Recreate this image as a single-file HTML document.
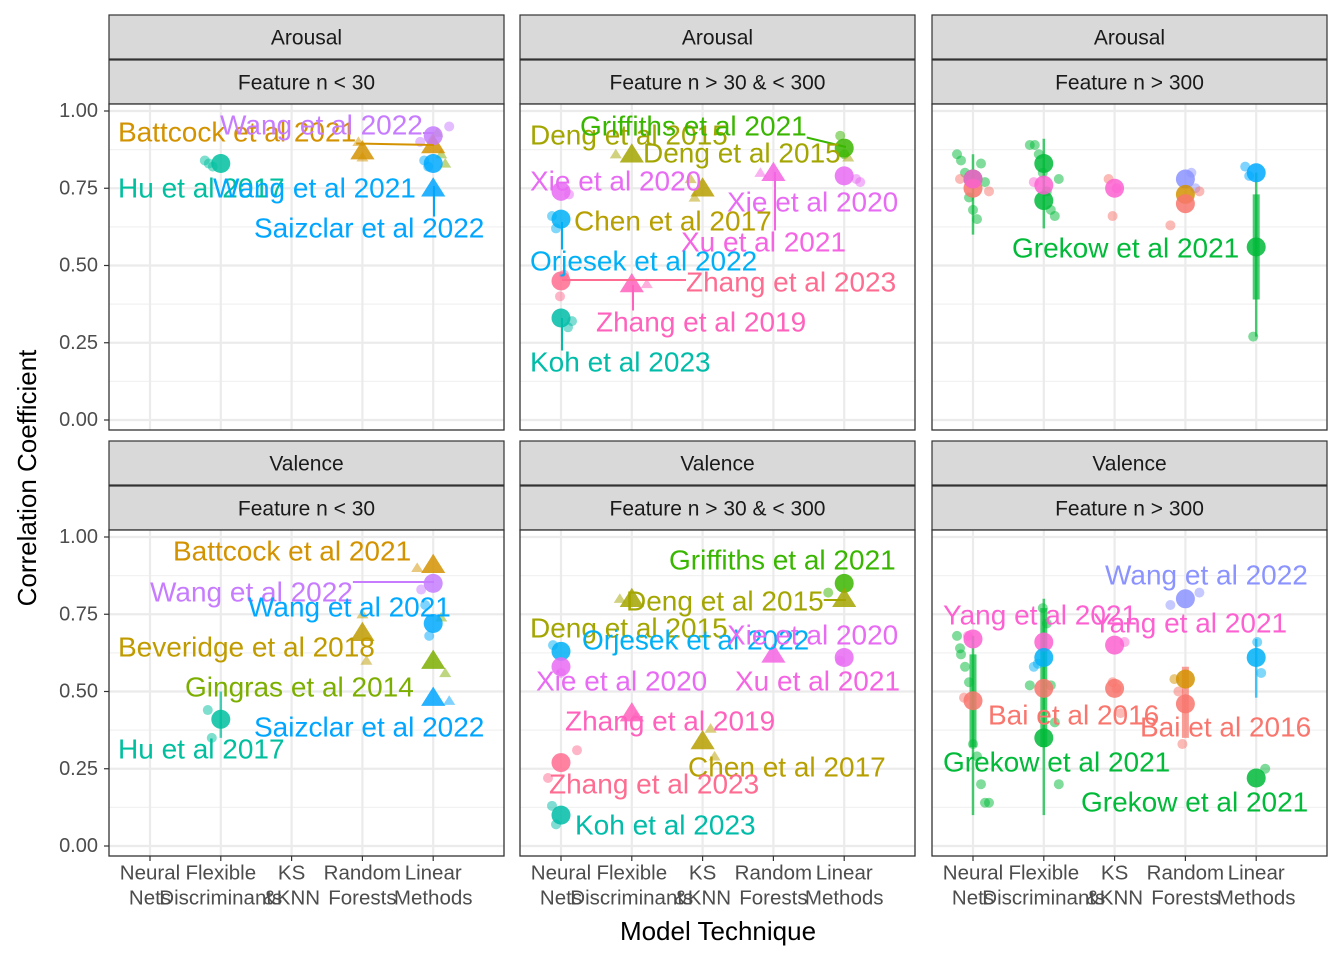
<!DOCTYPE html>
<html><head><meta charset="utf-8"><style>
body{margin:0;background:#fff}
svg{display:block;font-family:"Liberation Sans",sans-serif}
</style></head><body>
<svg id="chart" width="1344" height="960" viewBox="0 0 1344 960" xmlns="http://www.w3.org/2000/svg"></svg>
<script>
const categories=["Neural\nNets","Flexible\nDiscriminants","KS\n&KNN","Random\nForests","Linear\nMethods"];
const yTicks=[0,0.25,0.5,0.75,1];
const yTickLabels=["0.00","0.25","0.50","0.75","1.00"];
const rowTitles=["Arousal","Valence"];
const colTitles=["Feature n < 30","Feature n > 30 & < 300","Feature n > 300"];
const colors={Battcock:"#D39200",Wang22:"#C77CFF",Wang21:"#00A9FF",Hu:"#00BF9F",Saiz:"#00A5FF",Deng:"#A3A500",Griff:"#39B600",Xie:"#E76BF3",Chen:"#B79F00",Orj:"#00B0F6",Z23:"#FF6C91",Z19:"#FF62BC",Koh:"#00BCA8",Xu:"#F564E3",Grek:"#00BA38",Yang:"#FD61D1",Bai:"#F8766D",Bev:"#C09B00",Ging:"#7CAE00",Wang22v:"#8B93FF"};
const meansA1=[["Hu",1,0.83,"c"],["Battcock",3,0.87,"t"],["Battcock",4,0.89,"t"],["Wang22",4,0.92,"c"],["Wang21",4,0.83,"c"],["Saiz",4,0.75,"t"]];
const meansA2=[["Deng",1,0.86,"t"],["Chen",2,0.75,"t"],["Griff",4,0.88,"c"],["Xie",0,0.74,"c"],["Xie",4,0.79,"c"],["Xu",3,0.80,"t"],["Orj",0,0.65,"c"],["Z23",0,0.45,"c"],["Z19",1,0.44,"t"],["Koh",0,0.33,"c"]];
const meansA3=[["Grek",0,0.78,"c"],["Bai",0,0.75,"c"],["Yang",0,0.78,"c"],["Grek",1,0.83,"c"],["Grek",1,0.71,"c"],["Yang",1,0.76,"c"],["Yang",2,0.75,"c"],["Wang22v",3,0.78,"c"],["Battcock",3,0.73,"c"],["Bai",3,0.70,"c"],["Wang21",4,0.80,"c"],["Grek",4,0.56,"c"]];
const meansV1=[["Battcock",4,0.91,"t"],["Wang22",4,0.85,"c"],["Wang21",4,0.72,"c"],["Bev",3,0.69,"t"],["Ging",4,0.60,"t"],["Saiz",4,0.48,"t"],["Hu",1,0.41,"c"]];
const meansV2=[["Griff",4,0.85,"c"],["Deng",4,0.80,"t"],["Deng",1,0.80,"t"],["Orj",0,0.63,"c"],["Xie",0,0.58,"c"],["Xie",4,0.61,"c"],["Xu",3,0.62,"t"],["Z19",1,0.43,"t"],["Chen",2,0.34,"t"],["Z23",0,0.27,"c"],["Koh",0,0.10,"c"]];
const meansV3=[["Wang22v",3,0.80,"c"],["Yang",0,0.67,"c"],["Yang",1,0.66,"c"],["Yang",2,0.65,"c"],["Bai",0,0.47,"c"],["Bai",1,0.51,"c"],["Bai",2,0.51,"c"],["Battcock",3,0.54,"c"],["Bai",3,0.46,"c"],["Grek",1,0.35,"c"],["Grek",4,0.22,"c"],["Orj",1,0.61,"c"],["Orj",4,0.61,"c"]];
const ptsA1=[["Hu",1,0.84,"c"],["Hu",1,0.83,"c"],["Hu",1,0.82,"c"],["Battcock",3,0.90,"t"],["Battcock",3,0.85,"t"],["Ging",4,0.93,"t"],["Ging",4,0.86,"t"],["Ging",4,0.83,"t"],["Wang22",4,0.95,"c"],["Wang22",4,0.90,"c"],["Wang21",4,0.84,"c"],["Wang21",4,0.82,"c"],["Deng",4,0.91,"t"]];
const ptsA2=[["Deng",1,0.86,"t"],["Chen",2,0.78,"t"],["Chen",2,0.72,"t"],["Griff",4,0.92,"c"],["Griff",4,0.86,"c"],["Deng",4,0.85,"t"],["Xie",0,0.73,"c"],["Xie",4,0.78,"c"],["Xie",4,0.77,"c"],["Xu",3,0.80,"t"],["Orj",0,0.66,"c"],["Orj",0,0.62,"c"],["Z23",0,0.40,"c"],["Z23",0,0.47,"c"],["Koh",0,0.30,"c"],["Koh",0,0.32,"c"],["Z19",1,0.44,"t"]];
const ptsA3=[["Grek",0,0.86,"c"],["Grek",0,0.84,"c"],["Grek",0,0.80,"c"],["Grek",0,0.72,"c"],["Grek",0,0.68,"c"],["Grek",0,0.65,"c"],["Grek",0,0.83,"c"],["Grek",0,0.77,"c"],["Bai",0,0.74,"c"],["Bai",0,0.78,"c"],["Grek",1,0.89,"c"],["Grek",1,0.86,"c"],["Grek",1,0.80,"c"],["Grek",1,0.74,"c"],["Grek",1,0.68,"c"],["Grek",1,0.66,"c"],["Grek",1,0.78,"c"],["Grek",1,0.89,"c"],["Yang",1,0.77,"c"],["Bai",2,0.78,"c"],["Bai",2,0.66,"c"],["Yang",2,0.75,"c"],["Wang22v",3,0.80,"c"],["Wang22v",3,0.75,"c"],["Bai",3,0.74,"c"],["Bai",3,0.63,"c"],["Wang21",4,0.82,"c"],["Wang21",4,0.79,"c"],["Grek",4,0.27,"c"]];
const ptsV1=[["Battcock",4,0.90,"t"],["Wang22",4,0.83,"c"],["Wang21",4,0.78,"c"],["Wang21",4,0.68,"c"],["Bev",3,0.75,"t"],["Bev",3,0.60,"t"],["Ging",4,0.74,"t"],["Ging",4,0.56,"t"],["Saiz",4,0.47,"t"],["Hu",1,0.44,"c"],["Hu",1,0.35,"c"]];
const ptsV2=[["Griff",4,0.82,"c"],["Deng",1,0.80,"t"],["Orj",0,0.65,"c"],["Xie",4,0.60,"c"],["Xie",0,0.56,"c"],["Z19",1,0.42,"t"],["Chen",2,0.38,"t"],["Chen",2,0.29,"t"],["Z23",0,0.31,"c"],["Z23",0,0.22,"c"],["Koh",0,0.13,"c"],["Koh",0,0.07,"c"]];
const ptsV3=[["Grek",0,0.68,"c"],["Grek",0,0.62,"c"],["Grek",0,0.58,"c"],["Grek",0,0.53,"c"],["Grek",0,0.33,"c"],["Grek",0,0.29,"c"],["Grek",0,0.20,"c"],["Grek",0,0.14,"c"],["Grek",0,0.14,"c"],["Grek",0,0.64,"c"],["Bai",0,0.48,"c"],["Yang",0,0.68,"c"],["Grek",1,0.77,"c"],["Grek",1,0.72,"c"],["Grek",1,0.52,"c"],["Grek",1,0.40,"c"],["Grek",1,0.20,"c"],["Grek",1,0.52,"c"],["Orj",1,0.58,"c"],["Orj",1,0.59,"c"],["Bai",2,0.53,"c"],["Bai",2,0.51,"c"],["Bai",2,0.43,"c"],["Yang",2,0.66,"c"],["Wang22v",3,0.82,"c"],["Wang22v",3,0.78,"c"],["Battcock",3,0.54,"c"],["Bai",3,0.50,"c"],["Bai",3,0.33,"c"],["Orj",4,0.66,"c"],["Orj",4,0.56,"c"],["Grek",4,0.25,"c"]];
const errA3=[["Grek",4,0.27,0.80,0],["Grek",4,0.39,0.73,1],["Grek",0,0.60,0.86,0],["Grek",1,0.62,0.91,0]];
const errV3=[["Grek",0,0.10,0.68,0],["Grek",0,0.32,0.62,1],["Grek",1,0.32,0.77,1],["Grek",1,0.10,0.80,0],["Bai",3,0.35,0.58,1],["Orj",4,0.48,0.67,0]];
const errV1=[["Hu",1,0.35,0.50,0]];
const panels=[
 {r:0,c:0,m:meansA1,p:ptsA1,e:[]},{r:0,c:1,m:meansA2,p:ptsA2,e:[]},{r:0,c:2,m:meansA3,p:ptsA3,e:errA3},
 {r:1,c:0,m:meansV1,p:ptsV1,e:errV1},{r:1,c:1,m:meansV2,p:ptsV2,e:[]},{r:1,c:2,m:meansV3,p:ptsV3,e:errV3}];
const labels=[
 ["Battcock et al 2021","Battcock",118,132,434,145],["Wang et al 2022","Wang22",220,125,434,133],["Hu et al 2017","Hu",118,188],["Wang et al 2021","Wang21",213,188],["Saizclar et al 2022","Saiz",254,228,434,186],
 ["Deng et al 2015","Deng",530,135],["Griffiths et al 2021","Griff",580,126,846,147],["Deng et al 2015","Deng",643,153],["Xie et al 2020","Xie",530,181],["Xie et al 2020","Xie",727,202],["Chen et al 2017","Chen",574,221],["Xu et al 2021","Xu",681,242,775,172],["Orjesek et al 2022","Orj",530,261,562,222],["Zhang et al 2023","Z23",686,282,562,280],["Zhang et al 2019","Z19",596,322,633,285],["Koh et al 2023","Koh",530,362,562,318],
 ["Grekow et al 2021","Grek",1012,248],
 ["Battcock et al 2021","Battcock",173,551],["Wang et al 2022","Wang22",150,592,434,582],["Wang et al 2021","Wang21",248,607],["Beveridge et al 2018","Bev",118,647],["Gingras et al 2014","Ging",185,687],["Saizclar et al 2022","Saiz",254,727],["Hu et al 2017","Hu",118,749],
 ["Griffiths et al 2021","Griff",669,560],["Deng et al 2015","Deng",626,601,846,600],["Deng et al 2015","Deng",530,628],["Orjesek et al 2022","Orj",582,640],["Xie et al 2020","Xie",727,635],["Xie et al 2020","Xie",536,681],["Xu et al 2021","Xu",735,681],["Zhang et al 2019","Z19",565,721],["Chen et al 2017","Chen",688,767],["Zhang et al 2023","Z23",549,784],["Koh et al 2023","Koh",575,825],
 ["Wang et al 2022","Wang22v",1105,575],["Yang et al 2021","Yang",943,615],["Yang et al 2021","Yang",1093,623],["Bai et al 2016","Bai",988,715],["Bai et al 2016","Bai",1140,727],["Grekow et al 2021","Grek",943,762],["Grekow et al 2021","Grek",1081,802]];

const NS="http://www.w3.org/2000/svg",svg=document.getElementById("chart");
function el(t,a,parent){const e=document.createElementNS(NS,t);for(const k in a)e.setAttribute(k,a[k]);(parent||svg).appendChild(e);return e;}
const colX=[109,520,932],PW=395,rowPlotTop=[104,530],rowPlotBot=[430,856],rowStripTop=[15,441];
function xPos(c,i){return colX[c]+41+i*70.8;}
function yPos(r,v){return rowPlotBot[r]-10-v*309;}
function tri(x,y,s){return `${x},${y-s} ${x-s*1.1},${y+s*0.75} ${x+s*1.1},${y+s*0.75}`;}

panels.forEach((P,pi)=>{
 const g=el("g",{});
 
 
 const x0=colX[P.c],y0=rowPlotTop[P.r],y1=rowPlotBot[P.r];
 [0,1].forEach(k=>{
  const sy=rowStripTop[P.r]+k*45;
  const s=el("rect",{x:x0,y:sy,width:PW,height:44,fill:"#D9D9D9",stroke:"#333",'stroke-width':1.2},g);
  
  
  const t=el("text",{x:x0+PW/2,y:sy+23,'text-anchor':'middle','dominant-baseline':'central','font-size':21,fill:'#1A1A1A'},g);
  t.textContent=k?colTitles[P.c]:rowTitles[P.r];
  
  
 });
 el("rect",{x:x0,y:y0,width:PW,height:y1-y0,fill:"#fff"},g);
 for(let v=0.125;v<1.1;v+=0.25){el("line",{x1:x0,x2:x0+PW,y1:yPos(P.r,v),y2:yPos(P.r,v),stroke:"#F2F2F2",'stroke-width':1.2},g);}
 yTicks.forEach(v=>el("line",{x1:x0,x2:x0+PW,y1:yPos(P.r,v),y2:yPos(P.r,v),stroke:"#EBEBEB",'stroke-width':2.2},g));
 categories.forEach((c,i)=>el("line",{x1:xPos(P.c,i),x2:xPos(P.c,i),y1:y0,y2:y1,stroke:"#EBEBEB",'stroke-width':2.2},g));
 P.e.forEach(e=>{
  const b=el("line",{x1:xPos(P.c,e[1]),x2:xPos(P.c,e[1]),y1:yPos(P.r,e[2]),y2:yPos(P.r,e[3]),stroke:colors[e[0]],'stroke-width':e[4]?7:2.5,opacity:0.7},g);
  
  
 });
 P.p.forEach((p,i)=>{
  const dx=((i*37)%33)-16,x=xPos(P.c,p[1])+dx,y=yPos(P.r,p[2]);
  const m=p[3]=="t"?el("polygon",{points:tri(x,y,5.5),fill:colors[p[0]],opacity:0.5},g):el("circle",{cx:x,cy:y,r:5,fill:colors[p[0]],opacity:0.5},g);
  
  
 });
 P.m.forEach(p=>{
  const x=xPos(P.c,p[1]),y=yPos(P.r,p[2]);
  const m=p[3]=="t"?el("polygon",{points:tri(x,y,11),fill:colors[p[0]],opacity:0.85},g):el("circle",{cx:x,cy:y,r:9.5,fill:colors[p[0]],opacity:0.85},g);
  
  
 });
 el("rect",{x:x0,y:y0,width:PW,height:y1-y0,fill:"none",stroke:"#333",'stroke-width':1.3},g);
 categories.forEach((c,i)=>{
  if(P.r==1){
   el("line",{x1:xPos(P.c,i),x2:xPos(P.c,i),y1:y1,y2:y1+5,stroke:"#333",'stroke-width':1.2},g);
   c.split("\n").forEach((ln,k)=>{const t=el("text",{x:xPos(P.c,i),y:873+k*25,'text-anchor':'middle','dominant-baseline':'central','font-size':20.5,fill:'#4D4D4D'},g);t.textContent=ln;
    
    });
  }
 });
 if(P.c==0){
  yTicks.forEach((v,i)=>{
   el("line",{x1:x0-5,x2:x0,y1:yPos(P.r,v),y2:yPos(P.r,v),stroke:"#333",'stroke-width':1.2},g);
   const t=el("text",{x:x0-11,y:yPos(P.r,v),'text-anchor':'end','dominant-baseline':'central','font-size':20,fill:'#4D4D4D'},g);
   t.textContent=yTickLabels[i];
   
   
  });
 }
});
labels.forEach(l=>{
 const t=el("text",{x:l[2],y:l[3],'dominant-baseline':'central','font-size':28,fill:colors[l[1]]});
 t.textContent=l[0];
 
 
 if(l.length>4){
  const bb=t.getBBox();
  const sx=Math.max(bb.x,Math.min(l[4],bb.x+bb.width)),sy=Math.max(bb.y+4,Math.min(l[5],bb.y+bb.height-4));
  const s=el("line",{x1:sx,y1:sy,x2:l[4],y2:l[5],stroke:colors[l[1]],'stroke-width':2});
  
  
  svg.insertBefore(s,t);
 }
});
const xt=el("text",{x:718,y:931,'text-anchor':'middle','dominant-baseline':'central','font-size':26,fill:'#000'});
xt.textContent="Model Technique";


const yt=el("text",{x:27,y:478,'text-anchor':'middle','dominant-baseline':'central','font-size':26,fill:'#000',transform:'rotate(-90 27 478)'});
yt.textContent="Correlation Coefficient";


</script>
</body></html>
